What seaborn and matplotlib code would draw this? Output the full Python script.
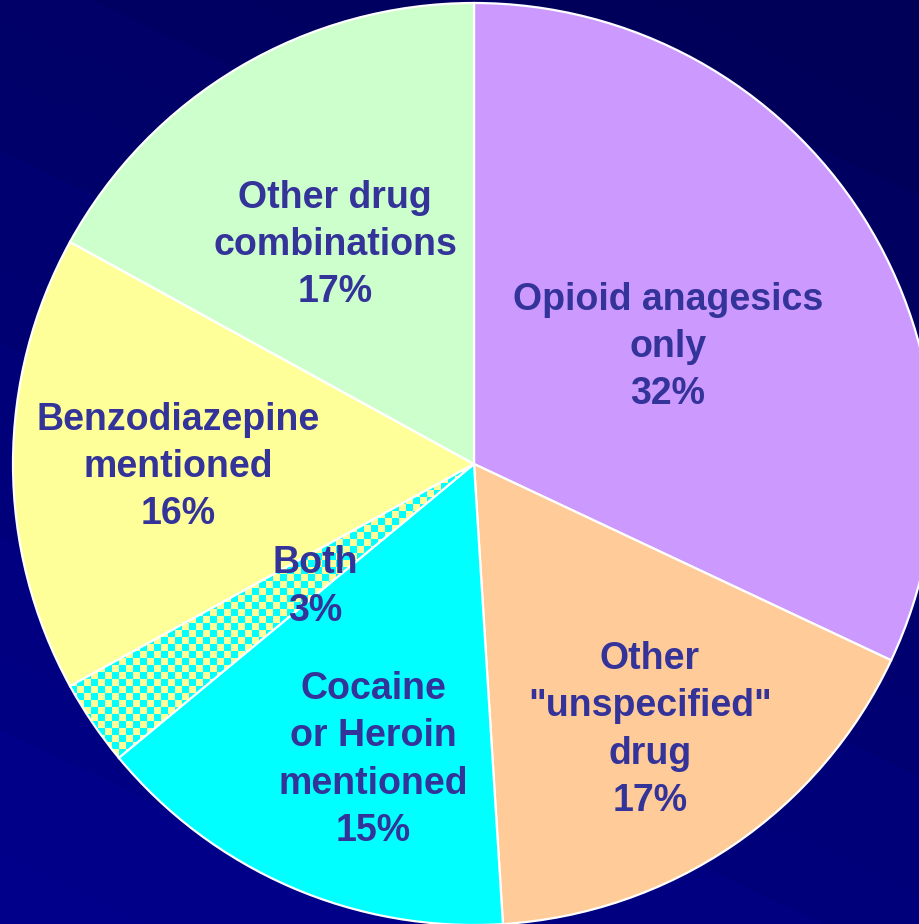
import numpy as np
import matplotlib
matplotlib.use("Agg")
import matplotlib.pyplot as plt
import seaborn as sns

# data
labels = ["Opioid anagesics\nonly\n32%", "Other\n\"unspecified\"\ndrug\n17%",
          "Cocaine\nor Heroin\nmentioned\n15%", "Both\n3%",
          "Benzodiazepine\nmentioned\n16%", "Other drug\ncombinations\n17%"]
shares = [32, 17, 15, 3, 16, 17]
colors = ["#CC99FF", "#FFCC99", "#00FFFF", "#FFFF99", "#FFFF99", "#CCFFCC"]
# label centres in pixel space (x, y from top)
label_pos = [(668, 347), (650, 730), (373, 760), (315, 587), (178, 467), (335, 245)]

sns.set_style("white")
plt.rcParams["font.family"] = ["Liberation Sans", "DejaVu Sans"]

W, H = 920, 924
fig = plt.figure(figsize=(W / 100, H / 100), dpi=100)
ax = fig.add_axes([0, 0, 1, 1])

# background: dark blue diagonal gradient with soft bands
yy, xx = np.mgrid[0:H, 0:W]
v = (yy - 0.47 * xx + 430) / (H + 430)
v = np.clip(v, 0, 1)
v = np.floor(v * 7) / 7 * 0.6 + v * 0.4
dark = np.array([0x00, 0x00, 0x58]) / 255
light = np.array([0x00, 0x00, 0x90]) / 255
bg = dark[None, None, :] * (1 - v[..., None]) + light[None, None, :] * v[..., None]
ax.imshow(bg, extent=(0, W, 0, H), origin="upper", zorder=0)

cx, cy, r = 474, H - 464, 461
wedges, _ = ax.pie(shares, colors=colors, startangle=90, counterclock=False,
                   center=(cx, cy), radius=r, frame=True,
                   wedgeprops=dict(edgecolor="white", linewidth=1.6, zorder=2))
ax.set_xlim(0, W)
ax.set_ylim(0, H)
ax.set_aspect("equal")
ax.axis("off")

# checkered fill for the "Both" slice
both = wedges[3]
cell = 7
ci, cj = np.indices((H // cell + 1, W // cell + 1))
chk = ((ci + cj) % 2).astype(float)
chk_rgb = np.where(chk[..., None] > 0, np.array([1.0, 1.0, 0.6]), np.array([0.0, 1.0, 1.0]))
im = ax.imshow(chk_rgb, extent=(0, (W // cell + 1) * cell, H - (H // cell + 1) * cell, H),
               origin="upper", zorder=2.5, interpolation="nearest")
im.set_clip_path(both)
both.set_zorder(3)
both.set_facecolor("none")

for text, (px, py) in zip(labels, label_pos):
    ax.text(px, H - py, text, ha="center", va="center", fontsize=27,
            fontweight="bold", color="#333399", linespacing=1.4, zorder=5)

fig.savefig("out.png", dpi=100)
